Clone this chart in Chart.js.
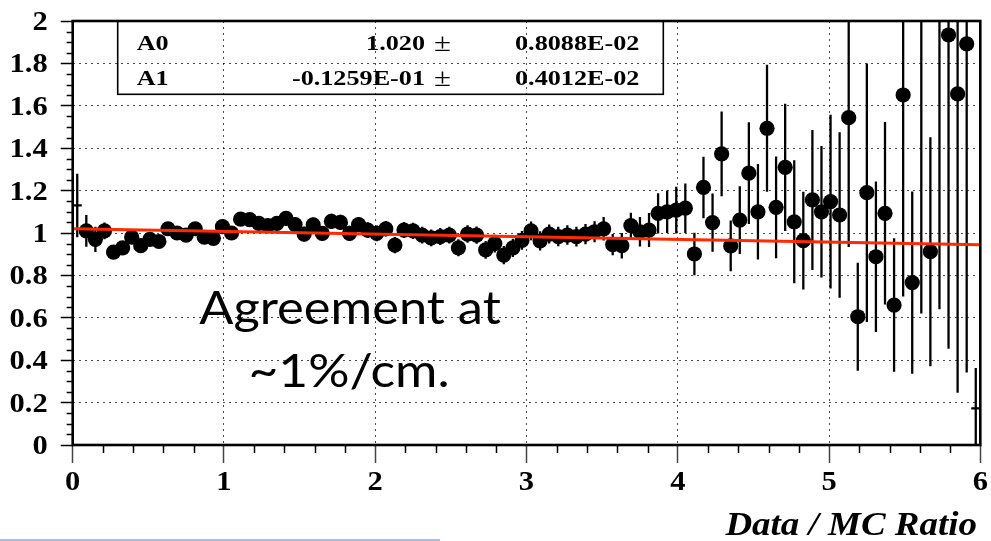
<!DOCTYPE html>
<html>
<head>
<meta charset="utf-8">
<script src="https://cdn.jsdelivr.net/npm/chart.js@4.4.0/dist/chart.umd.min.js"></script>
<style>
  html, body { margin: 0; padding: 0; background: #fff; }
  canvas { display: block; }
</style>
</head>
<body>
<canvas id="ratioChart" width="991" height="541"></canvas>
<script>
// histogram bin centres (100 bins, 0 -> 6)
const binX = [0.03,0.09,0.15,0.21,0.27,0.33,0.39,0.45,0.51,0.57,
  0.63,0.69,0.75,0.81,0.87,0.93,0.99,1.05,1.11,1.17,
  1.23,1.29,1.35,1.41,1.47,1.53,1.59,1.65,1.71,1.77,
  1.83,1.89,1.95,2.01,2.07,2.13,2.19,2.25,2.31,2.37,
  2.43,2.49,2.55,2.61,2.67,2.73,2.79,2.85,2.91,2.97,
  3.03,3.09,3.15,3.21,3.27,3.33,3.39,3.45,3.51,3.57,
  3.63,3.69,3.75,3.81,3.87,3.93,3.99,4.05,4.11,4.17,
  4.23,4.29,4.35,4.41,4.47,4.53,4.59,4.65,4.71,4.77,
  4.83,4.89,4.95,5.01,5.07,5.13,5.19,5.25,5.31,5.37,
  5.43,5.49,5.55,5.61,5.67,5.73,5.79,5.85,5.91,5.97];
const halfBin = 0.03;

// data / MC ratio per bin
const ratio = [1.13,1.01,0.97,1.01,0.91,0.93,0.98,0.94,0.97,0.96,
  1.02,1.00,0.99,1.02,0.98,0.975,1.03,1.00,1.065,1.063,
  1.045,1.035,1.045,1.069,1.04,0.995,1.038,0.998,1.055,1.05,
  0.998,1.04,1.014,0.998,1.02,0.943,1.014,1.01,0.99,0.977,
  0.983,0.99,0.93,0.995,0.99,0.92,0.95,0.896,0.93,0.965,
  1.01,0.963,0.995,0.983,0.99,0.983,0.995,1.006,1.02,0.945,
  0.94,1.035,1.006,1.014,1.093,1.10,1.108,1.117,0.901,1.215,
  1.049,1.373,0.939,1.061,1.282,1.10,1.494,1.121,1.31,1.053,
  0.964,1.156,1.10,1.148,1.085,1.544,0.605,1.19,0.888,1.093,
  0.66,1.651,0.766,2.3,0.912,2.4,1.934,1.656,1.892,0.173];

const ratioErr = [0.15,0.075,0.06,0.04,0.03,0.03,0.03,0.03,0.03,0.03,
  0.03,0.03,0.03,0.03,0.03,0.03,0.03,0.03,0.032,0.032,
  0.034,0.034,0.034,0.035,0.035,0.035,0.035,0.035,0.036,0.036,
  0.036,0.036,0.037,0.037,0.037,0.038,0.038,0.038,0.039,0.039,
  0.04,0.04,0.04,0.041,0.041,0.042,0.042,0.043,0.043,0.044,
  0.044,0.045,0.045,0.046,0.046,0.047,0.048,0.05,0.055,0.05,
  0.06,0.06,0.07,0.08,0.095,0.10,0.11,0.117,0.10,0.145,
  0.137,0.2,0.12,0.16,0.24,0.225,0.3,0.24,0.3,0.29,
  0.23,0.33,0.31,0.41,0.39,0.61,0.255,0.61,0.355,0.43,
  0.315,0.95,0.43,1.68,0.54,1.76,1.48,1.41,1.55,0.19];

// bins drawn as a bare error cross (no marker)
const crossOnly = [0, 99];

// linear fit p0 + p1*x
const fitX = [0, 6];
const fitY = [1.020, 0.9445];
const fitNames = ['A0', 'A1'];
const fitVals = ['1.020', '-0.1259E-01'];
const fitErrs = ['0.8088E-02', '0.4012E-02'];

const xTicks = [0, 1, 2, 3, 4, 5, 6];
const noteLines = ['Agreement at', '~1%/cm.'];
const xTitle = 'Data / MC Ratio';

const SERIF = '"Liberation Serif", "Times New Roman", serif';

function stretchedText(ctx, str, x, y, font, align, sx) {
  ctx.save();
  ctx.translate(x, y);
  ctx.scale(sx, 1);
  ctx.font = font;
  ctx.textAlign = align;
  ctx.textBaseline = 'alphabetic';
  ctx.fillStyle = '#000';
  ctx.fillText(str, 0, 0);
  ctx.restore();
}

const fmt = (v) => String(+v.toFixed(1));

const rootStyle = {
  id: 'rootStyle',
  beforeDatasetsDraw(chart) {
    const { ctx, chartArea: a, scales: { x, y } } = chart;
    ctx.save();
    ctx.beginPath();
    ctx.rect(a.left, a.top, a.right - a.left, a.bottom - a.top);
    ctx.clip();
    ctx.strokeStyle = '#000';
    ctx.lineWidth = 2.3;
    binX.forEach((bx, i) => {
      const px = x.getPixelForValue(bx);
      const py = y.getPixelForValue(ratio[i]);
      ctx.beginPath();
      ctx.moveTo(px, y.getPixelForValue(ratio[i] - ratioErr[i]));
      ctx.lineTo(px, y.getPixelForValue(ratio[i] + ratioErr[i]));
      ctx.moveTo(x.getPixelForValue(bx - halfBin), py);
      ctx.lineTo(x.getPixelForValue(bx + halfBin), py);
      ctx.stroke();
    });
    ctx.restore();
  },
  afterDraw(chart) {
    const { ctx, chartArea: a, scales: { x, y } } = chart;
    ctx.save();

    // minor ticks
    ctx.strokeStyle = '#000';
    ctx.lineWidth = 1.5;
    ctx.beginPath();
    for (let k = 0; k <= 40; k++) {
      if (k % 4 === 0) continue;
      const py = Math.round(y.getPixelForValue(k * 0.05)) + 0.5;
      ctx.moveTo(a.left - 6, py);
      ctx.lineTo(a.left, py);
    }
    for (let k = 0; k <= 30; k++) {
      if (k % 5 === 0) continue;
      const px = Math.round(x.getPixelForValue(k * 0.2)) + 0.5;
      ctx.moveTo(px, a.bottom);
      ctx.lineTo(px, a.bottom + 8);
    }
    ctx.stroke();

    // frame
    ctx.lineWidth = 2.6;
    ctx.strokeRect(a.left, a.top, a.right - a.left, a.bottom - a.top);

    // tick labels, from the scales' own ticks
    const tickFont = 'bold 27px ' + SERIF;
    y.ticks.forEach((t) => {
      stretchedText(ctx, fmt(t.value), a.left - 25, y.getPixelForValue(t.value) + 9, tickFont, 'right', 1.13);
    });
    x.ticks.forEach((t) => {
      stretchedText(ctx, fmt(t.value), x.getPixelForValue(t.value), 490, tickFont, 'center', 1.13);
    });

    // fit stats box
    ctx.lineWidth = 1.6;
    ctx.strokeRect(117.7, a.top, 663.3 - 117.7, 94.3 - a.top);
    const bold = 'bold 22px ' + SERIF;
    const plain = '26px ' + SERIF;
    const rows = [49.5, 84.5];
    fitNames.forEach((n, i) => {
      stretchedText(ctx, n, 136.7, rows[i], bold, 'left', 1.19);
      stretchedText(ctx, fitVals[i], 425, rows[i], bold, 'right', 1.19);
      stretchedText(ctx, '\u00b1', 434, rows[i] + 1, plain, 'left', 1.19);
      stretchedText(ctx, fitErrs[i], 515, rows[i], bold, 'left', 1.19);
    });

    // annotation
    const note = '46px Lato, "Open Sans", sans-serif';
    stretchedText(ctx, noteLines[0], 350, 324, note, 'center', 1.1);
    stretchedText(ctx, noteLines[1], 349, 387, note, 'center', 1.12);

    // axis title
    stretchedText(ctx, xTitle, 977, 535, 'bold italic 33px ' + SERIF, 'right', 1.12);

    // stray rule at the bottom of the slide
    ctx.strokeStyle = '#8ea7d2';
    ctx.lineWidth = 1.5;
    ctx.beginPath();
    ctx.moveTo(0, 540);
    ctx.lineTo(440, 540);
    ctx.stroke();

    ctx.restore();
  }
};

new Chart(document.getElementById('ratioChart').getContext('2d'), {
  type: 'scatter',
  data: {
    datasets: [
      {
        type: 'line',
        label: 'fit',
        data: fitX.map((v, i) => ({ x: v, y: fitY[i] })),
        borderColor: '#ff2a00',
        borderWidth: 2.8,
        pointRadius: 0,
        fill: false,
      },
      {
        label: 'Data / MC',
        data: binX.map((v, i) => ({ x: v, y: ratio[i] })),
        backgroundColor: '#000',
        borderColor: '#000',
        borderWidth: 0,
        pointRadius: (c) => (crossOnly.includes(c.dataIndex) ? 0 : 7.6),
        pointHoverRadius: 7.6,
      },
    ],
  },
  options: {
    responsive: false,
    animation: false,
    events: [],
    layout: { padding: { left: 0, top: 21, right: 10.7, bottom: 0 } },
    plugins: { legend: { display: false }, tooltip: { enabled: false } },
    scales: {
      x: {
        type: 'linear',
        min: 0,
        max: 6,
        afterFit: (s) => {
          s.height = 96;
          s.paddingLeft = s.paddingRight = s.paddingTop = s.paddingBottom = 0;
        },
        afterBuildTicks: (s) => { s.ticks = xTicks.map((v) => ({ value: v })); },
        grid: {
          color: 'rgba(0,0,0,0.7)',
          lineWidth: 1,
          tickLength: 18,
          tickColor: '#444',
          tickWidth: 1.5,
        },
        border: { display: false, dash: [2, 4] },
        ticks: { display: false },
      },
      y: {
        type: 'linear',
        min: 0,
        max: 2,
        afterFit: (s) => {
          s.width = 72.7;
          s.paddingLeft = s.paddingRight = s.paddingTop = s.paddingBottom = 0;
        },
        grid: {
          color: 'rgba(0,0,0,0.7)',
          lineWidth: 1,
          tickLength: 12,
          tickColor: '#000',
          tickWidth: 1.5,
        },
        border: { display: false, dash: [2, 4] },
        ticks: { display: false, stepSize: 0.2 },
      },
    },
  },
  plugins: [rootStyle],
});
</script>
</body>
</html>
